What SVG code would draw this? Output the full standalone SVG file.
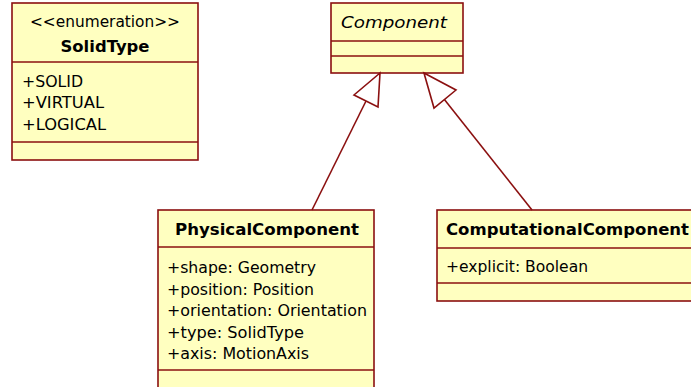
<svg xmlns="http://www.w3.org/2000/svg" width="691" height="387" viewBox="0 0 691 387">
<style>
.box{fill:#FFFFC0;stroke:#8B1010;stroke-width:1.6}
.ln{stroke:#8B1010;stroke-width:1.6;fill:none}
.head{fill:#FFFFFF;stroke:#8B1010;stroke-width:1.6;stroke-linejoin:miter}
text{font-family:"DejaVu Sans","Liberation Sans",sans-serif;font-size:16px;fill:#000}
.b{font-weight:bold}
.c{text-anchor:middle}
.i{font-style:italic}
</style>
<rect width="691" height="387" fill="#FFFFFF"/>
<g id="SolidType">
<rect class="box" x="12" y="3" width="186" height="157"/>
<line class="ln" x1="12" y1="62" x2="198" y2="62"/>
<line class="ln" x1="12" y1="142" x2="198" y2="142"/>
<text class="c" x="105" y="27" textLength="150" lengthAdjust="spacingAndGlyphs">&lt;&lt;enumeration&gt;&gt;</text>
<text class="c b" x="105" y="52" textLength="89" lengthAdjust="spacingAndGlyphs">SolidType</text>
<text x="22" y="87" textLength="61" lengthAdjust="spacingAndGlyphs">+SOLID</text>
<text x="22" y="108" textLength="82" lengthAdjust="spacingAndGlyphs">+VIRTUAL</text>
<text x="22" y="130" textLength="84" lengthAdjust="spacingAndGlyphs">+LOGICAL</text>
</g>
<g id="Component">
<rect class="box" x="331" y="3" width="132" height="70"/>
<line class="ln" x1="331" y1="41" x2="463" y2="41"/>
<line class="ln" x1="331" y1="56" x2="463" y2="56"/>
<text class="i" x="341" y="28" textLength="106" lengthAdjust="spacingAndGlyphs">Component</text>
</g>
<g id="PhysicalComponent">
<rect class="box" x="158" y="210" width="216" height="190"/>
<line class="ln" x1="158" y1="247" x2="374" y2="247"/>
<line class="ln" x1="158" y1="370" x2="374" y2="370"/>
<text class="c b" x="267" y="235" textLength="184" lengthAdjust="spacingAndGlyphs">PhysicalComponent</text>
<text x="167" y="273" textLength="149" lengthAdjust="spacingAndGlyphs">+shape: Geometry</text>
<text x="167" y="295" textLength="147" lengthAdjust="spacingAndGlyphs">+position: Position</text>
<text x="167" y="316" textLength="200" lengthAdjust="spacingAndGlyphs">+orientation: Orientation</text>
<text x="167" y="338" textLength="137" lengthAdjust="spacingAndGlyphs">+type: SolidType</text>
<text x="167" y="359" textLength="142" lengthAdjust="spacingAndGlyphs">+axis: MotionAxis</text>
</g>
<g id="ComputationalComponent">
<rect class="box" x="437" y="210" width="270" height="91"/>
<line class="ln" x1="437" y1="248" x2="707" y2="248"/>
<line class="ln" x1="437" y1="283" x2="707" y2="283"/>
<text class="b" x="446" y="235" textLength="243" lengthAdjust="spacingAndGlyphs">ComputationalComponent</text>
<text x="446" y="272" textLength="142" lengthAdjust="spacingAndGlyphs">+explicit: Boolean</text>
</g>
<g id="connectors">
<line class="ln" x1="366" y1="101" x2="312" y2="210"/>
<polygon class="head" points="380,73 354,95 378,107"/>
<line class="ln" x1="444" y1="99" x2="532" y2="210"/>
<polygon class="head" points="424,73 456,90 434,108"/>
</g>
</svg>
